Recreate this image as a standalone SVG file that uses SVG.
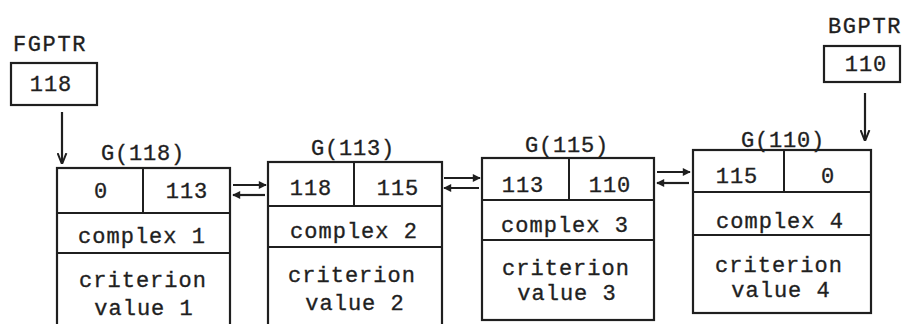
<svg xmlns="http://www.w3.org/2000/svg" width="903" height="324" viewBox="0 0 903 324">
<defs>
<marker id="ah" viewBox="0 0 10 10" refX="9" refY="5" markerWidth="9" markerHeight="8" markerUnits="userSpaceOnUse" orient="auto">
<path d="M0,0 L10,5 L0,10 z" fill="#1f1f1f"/>
</marker>
<marker id="ahv" viewBox="0 0 10 10" refX="9" refY="5" markerWidth="11" markerHeight="11" markerUnits="userSpaceOnUse" orient="auto">
<path d="M0,1 L10,5 L0,9" fill="none" stroke="#1f1f1f" stroke-width="1.8"/>
</marker>
<style>
.bx{fill:none;stroke:#1f1f1f;stroke-width:2.2}
.ln{stroke:#1f1f1f;stroke-width:2}
.t{font-family:"Liberation Mono","DejaVu Sans Mono",monospace;font-size:22px;letter-spacing:1px;fill:#1f1f1f;stroke:#1f1f1f;stroke-width:0.35;text-anchor:middle}
.lb{font-family:"Liberation Mono","DejaVu Sans Mono",monospace;font-size:22px;letter-spacing:0.8px;fill:#1f1f1f;stroke:#1f1f1f;stroke-width:0.35;text-anchor:middle}
.pt{font-family:"Liberation Mono","DejaVu Sans Mono",monospace;font-size:22px;letter-spacing:1.6px;fill:#1f1f1f;stroke:#1f1f1f;stroke-width:0.35;text-anchor:middle}
.cn{stroke:#1f1f1f;stroke-width:2.2;fill:none}
</style>
</defs>
<rect width="903" height="324" fill="#ffffff"/>

<g id="fgptr">
<text class="pt" x="50" y="51">FGPTR</text>
<rect class="bx" x="11" y="63" width="86" height="42"/>
<text class="t" x="51" y="91">118</text>
</g>

<g id="bgptr">
<text class="pt" x="865" y="33">BGPTR</text>
<rect class="bx" x="824" y="46" width="76" height="36"/>
<text class="t" x="866" y="71">110</text>
</g>

<g id="G118">
<text class="lb" x="143" y="160">G(118)</text>
<rect class="bx" x="57" y="168" width="173" height="170"/>
<line class="ln" x1="143" y1="168" x2="143" y2="213"/>
<line class="ln" x1="57" y1="213" x2="230" y2="213"/>
<line class="ln" x1="57" y1="253" x2="230" y2="253"/>
<text class="t" x="101" y="198">0</text>
<text class="t" x="187" y="198">113</text>
<text class="t" x="142" y="243">complex 1</text>
<text class="t" x="143" y="287">criterion</text>
<text class="t" x="144" y="315">value 1</text>
</g>

<g id="G113">
<text class="lb" x="353" y="155">G(113)</text>
<rect class="bx" x="268" y="162" width="174" height="176"/>
<line class="ln" x1="354" y1="162" x2="354" y2="206"/>
<line class="ln" x1="268" y1="206" x2="442" y2="206"/>
<line class="ln" x1="268" y1="247" x2="442" y2="247"/>
<text class="t" x="311" y="195">118</text>
<text class="t" x="398" y="195">115</text>
<text class="t" x="354" y="238">complex 2</text>
<text class="t" x="352" y="282">criterion</text>
<text class="t" x="355" y="310">value 2</text>
</g>

<g id="G115">
<text class="lb" x="567" y="152">G(115)</text>
<rect class="bx" x="482" y="158" width="172" height="162"/>
<line class="ln" x1="569" y1="158" x2="569" y2="200"/>
<line class="ln" x1="482" y1="200" x2="654" y2="200"/>
<line class="ln" x1="482" y1="240" x2="654" y2="240"/>
<text class="t" x="523" y="192">113</text>
<text class="t" x="610" y="192">110</text>
<text class="t" x="565" y="232">complex 3</text>
<text class="t" x="566" y="275">criterion</text>
<text class="t" x="567" y="300">value 3</text>
</g>

<g id="G110">
<text class="lb" x="783" y="147">G(110)</text>
<rect class="bx" x="693" y="150" width="178" height="163"/>
<line class="ln" x1="784" y1="150" x2="784" y2="192"/>
<line class="ln" x1="693" y1="192" x2="871" y2="192"/>
<line class="ln" x1="693" y1="235" x2="871" y2="235"/>
<text class="t" x="737" y="183">115</text>
<text class="t" x="828" y="183">0</text>
<text class="t" x="780" y="228">complex 4</text>
<text class="t" x="779" y="272">criterion</text>
<text class="t" x="781" y="297">value 4</text>
</g>

<g id="connectors">
<line class="cn" x1="62" y1="112" x2="62" y2="163" marker-end="url(#ahv)"/>
<line class="cn" x1="865" y1="93" x2="865" y2="140" marker-end="url(#ahv)"/>
<line class="cn" x1="233" y1="185" x2="266" y2="185" marker-end="url(#ah)"/>
<line class="cn" x1="265" y1="195" x2="233" y2="195" marker-end="url(#ah)"/>
<line class="cn" x1="444" y1="178" x2="480" y2="178" marker-end="url(#ah)"/>
<line class="cn" x1="479" y1="188" x2="444" y2="188" marker-end="url(#ah)"/>
<line class="cn" x1="657" y1="172" x2="690" y2="172" marker-end="url(#ah)"/>
<line class="cn" x1="689" y1="183" x2="657" y2="183" marker-end="url(#ah)"/>
</g>
</svg>
